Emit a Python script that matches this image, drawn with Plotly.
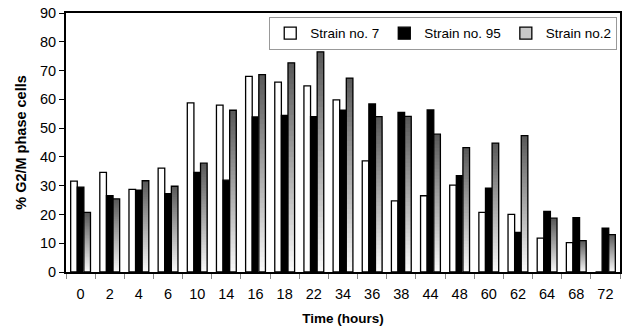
import plotly.graph_objects as go

times = ["0", "2", "4", "6", "10", "14", "16", "18", "22", "34", "36", "38", "44", "48", "60", "62", "64", "68", "72"]
strain7 = [31.6, 34.6, 28.7, 36.1, 58.8, 58.0, 68.0, 66.0, 64.7, 59.8, 38.6, 24.7, 26.5, 30.2, 20.7, 20.0, 11.8, 10.2, 0]
strain95 = [29.5, 26.5, 28.4, 27.2, 34.6, 31.9, 53.9, 54.4, 54.0, 56.2, 58.4, 55.5, 56.3, 33.5, 29.1, 13.8, 21.1, 18.9, 15.2]
strain2 = [20.7, 25.4, 31.7, 29.8, 37.8, 56.2, 68.6, 72.7, 76.5, 67.4, 54.0, 54.1, 47.9, 43.2, 44.8, 47.4, 18.7, 10.9, 13.0]

FONT = "Liberation Sans, Arial, sans-serif"
fig = go.Figure()

fig.add_trace(go.Bar(x=times, y=strain7, name="Strain no. 7", offsetgroup="s7",
                     marker=dict(color="white", line=dict(color="black", width=1.3))))
fig.add_trace(go.Bar(x=times, y=strain95, name="Strain no. 95", offsetgroup="s95",
                     marker=dict(color="black", line=dict(color="black", width=1.3))))

# gradient for strain no.2: nested bars from 0 to a fraction of the value,
# darkest (full height) drawn first, lighter shorter ones drawn over it
N = 40
light = (250, 250, 250)
dark = (88, 88, 88)
for i in range(N - 1, -1, -1):
    t = (i + 0.5) / N
    c = tuple(round(light[k] + (dark[k] - light[k]) * t) for k in range(3))
    fig.add_trace(go.Bar(x=times, y=[v * (i + 1) / N for v in strain2],
                         offsetgroup="s2", showlegend=False, hoverinfo="skip",
                         marker=dict(color="rgb(%d,%d,%d)" % c, line=dict(width=0))))
fig.add_trace(go.Bar(x=times, y=strain2, offsetgroup="s2", showlegend=False,
                     marker=dict(color="rgba(0,0,0,0)", line=dict(color="black", width=1.3))))
fig.add_trace(go.Bar(x=times, y=[None] * len(times), name="Strain no.2", offsetgroup="s2",
                     marker=dict(color="#c8c8c8", line=dict(color="black", width=1.3))))

fig.update_layout(
    width=624, height=331,
    margin=dict(l=66, r=2, t=13, b=59),
    barmode="group", bargap=0.32, bargroupgap=0,
    plot_bgcolor="white", paper_bgcolor="white",
    font=dict(family=FONT, size=14, color="black"),
    legend=dict(orientation="h", x=0.995, xanchor="right", y=0.985, yanchor="top",
                bordercolor="#999999", borderwidth=1, bgcolor="white",
                font=dict(size=13.5), itemwidth=30, tracegroupgap=0),
    xaxis=dict(type="category", showline=True, linecolor="black", linewidth=2, mirror=True,
               ticks="outside", tickson="boundaries", ticklen=5, tickcolor="#888888",
               tickfont=dict(size=14.5), ticklabelstandoff=8,
               title=dict(text="<b>Time (hours)</b>", font=dict(size=13.5), standoff=12)),
    yaxis=dict(range=[0, 90], dtick=10, showline=True, linecolor="black", linewidth=2, mirror=True,
               ticks="outside", ticklen=5, tickcolor="black", showgrid=False, zeroline=False,
               tickfont=dict(size=14.5),
               title=dict(text="<b>% G2/M phase cells</b>", font=dict(size=14.5), standoff=10)),
)

fig.write_html("out.html")
